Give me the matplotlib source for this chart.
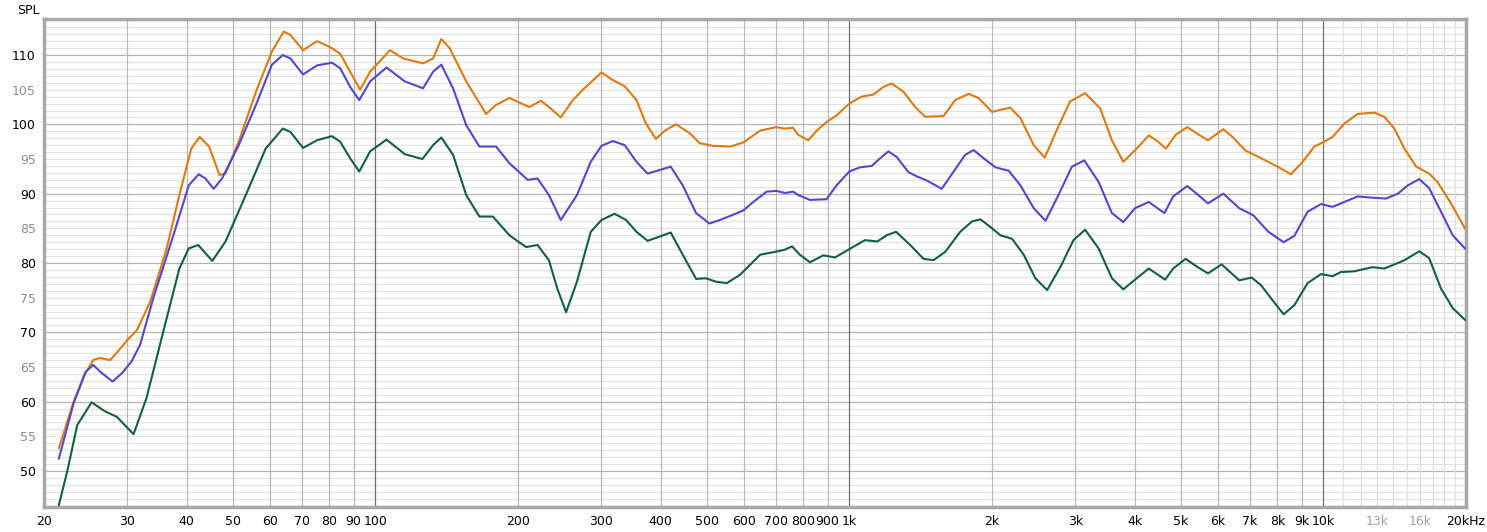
import numpy as np
import matplotlib
matplotlib.use("Agg")
import matplotlib.pyplot as plt

# frequency response readings (Hz, dB SPL)
orange_f = [21.5, 23.1, 24.3, 25.4, 26.2, 27.6, 29.0, 30.0, 31.4, 33.5, 36.3, 38.6, 40.9, 42.6, 44.6,
            46.9, 48.3, 51.5, 56.0, 60.5, 64.1, 66.2, 70.4, 75.3, 80.0, 84.3, 88.5, 92.9, 97.5, 107.4,
            114.5, 126.1, 132.4, 137.8, 143.5, 155.5, 171.3, 179.8, 191.8, 211.3, 223.6, 232.4, 246.2,
            261.0, 274.1, 300, 314.8, 335.9, 355.6, 372.5, 390.6, 410, 431.2, 461, 483.1, 515, 561.4,
            597.9, 648.5, 700.4, 729.7, 761, 780, 818.9, 859.9, 898.1, 940.1, 1000, 1062, 1124, 1180,
            1229, 1301, 1377, 1445, 1580, 1673, 1785, 1874, 2000, 2083, 2186, 2296, 2450, 2584, 2728,
            2922, 3144, 3383, 3581, 3785, 4040, 4283, 4464, 4655, 4883, 5164, 5405, 5710, 6152, 6430,
            6860, 7300, 8009, 8545, 9045, 9572, 10049, 10464, 11074, 11814, 12808, 13449, 14122, 14829,
            15703, 16722, 17410, 18594, 19900]
orange_db = [53.3, 60.0, 63.8, 66.0, 66.3, 66.0, 67.7, 68.9, 70.3, 74.4, 82.1, 89.8, 96.5, 98.2, 96.8,
             92.7, 92.9, 97.5, 104.7, 110.5, 113.4, 112.9, 110.7, 112.0, 111.2, 110.2, 107.6, 105.0, 107.6, 110.7,
             109.5, 108.8, 109.5, 112.3, 111.0, 106.2, 101.5, 102.8, 103.8, 102.5, 103.4, 102.5, 101.0,
             103.5, 105.0, 107.5, 106.5, 105.5, 103.5, 100.1, 97.9, 99.2, 100.0, 98.7, 97.3, 96.9, 96.8,
             97.4, 99.1, 99.6, 99.4, 99.5, 98.5, 97.7, 99.3, 100.4, 101.3, 103.0, 104.0, 104.3, 105.4,
             105.9, 104.7, 102.5, 101.1, 101.2, 103.5, 104.4, 103.8, 101.8, 102.1, 102.4, 100.9, 97.0, 95.2, 98.9,
             103.3, 104.5, 102.3, 97.7, 94.6, 96.5, 98.4, 97.6, 96.5, 98.5, 99.6, 98.7, 97.7, 99.3, 98.2,
             96.2, 95.3, 93.9, 92.8, 94.6, 96.8, 97.5, 98.2, 100.1, 101.5, 101.7, 101.1, 99.4, 96.5,
             93.9, 92.9, 91.7, 88.6, 85.0]

blue_f = [21.5, 23.1, 24.5, 25.4, 26.3, 27.9, 29.2, 30.6, 31.9, 34.0, 37.5, 40.4, 42.4, 43.8, 45.6,
          47.5, 51.5, 56.0, 60.5, 63.8, 66.2, 70.4, 75.3, 81.0, 84.3, 88.5, 92.5, 97.5, 105.6, 115.4,
          126.1, 132.4, 137.8, 145.9, 155.5, 165.8, 179.8, 191.8, 209.6, 219.9, 232.4, 246.2, 266.3,
          284.8, 300, 317.1, 335.9, 355.6, 375.4, 397.4, 420, 445.2, 475.1, 507, 533.1, 565.8, 597.9,
          627, 669.4, 701.5, 732.2, 761, 780, 826, 895, 940, 1000, 1053, 1115, 1161, 1209, 1259, 1333,
          1388, 1457, 1567, 1660, 1756, 1829, 1921, 2034, 2170, 2296, 2450, 2594, 2762, 2948, 3132,
          3357, 3581, 3785, 4005, 4283, 4622, 4822, 5164, 5405, 5710, 6152, 6648, 7113, 7660, 8245,
          8684, 9267, 9887, 10464, 11074, 11814, 12808, 13558, 14362, 15073, 15938, 16722, 17714,
          18750, 19900]
blue_db = [51.8, 59.8, 64.3, 65.3, 64.3, 62.9, 64.1, 65.8, 68.2, 74.9, 84.0, 91.2, 92.8, 92.2, 90.7,
           92.2, 97.0, 102.8, 108.6, 110.0, 109.5, 107.2, 108.5, 108.9, 108.1, 105.4, 103.5, 106.2, 108.2, 106.2,
           105.2, 107.6, 108.6, 105.2, 99.9, 96.8, 96.8, 94.4, 92.0, 92.2, 89.8, 86.2, 89.8,
           94.6, 96.9, 97.6, 97.0, 94.6, 92.9, 93.4, 93.9, 91.2, 87.2, 85.7, 86.2, 86.9, 87.6,
           88.8, 90.3, 90.4, 90.1, 90.3, 89.8, 89.1, 89.2, 91.2, 93.2, 93.8, 94.0, 95.1, 96.1, 95.3, 93.1,
           92.5, 91.9, 90.7, 93.2, 95.6, 96.3, 95.1, 93.8, 93.3, 91.2, 87.9, 86.1, 89.8, 93.9, 94.8,
           91.7, 87.2, 85.9, 87.9, 88.8, 87.2, 89.6, 91.1, 90.0, 88.6, 90.0, 87.9, 86.9, 84.5, 83.0,
           83.9, 87.4, 88.5, 88.1, 88.8, 89.6, 89.4, 89.3, 90.0, 91.2, 92.1, 90.8, 87.4,
           84.0, 82.1]

green_f = [21.5, 22.4, 23.5, 25.2, 26.9, 28.5, 30.9, 32.9, 35.7, 38.6, 40.4, 42.3, 45.3, 48.3, 53.3,
           58.7, 63.8, 66.2, 70.4, 75.3, 81.0, 84.3, 88.5, 92.5, 97.5, 105.6, 115.4, 125.7, 132.4, 137.8,
           145.9, 155.5, 165.8, 177.0, 191.8, 208.0, 219.9, 232.4, 242.1, 252.6, 266.3, 284.8, 300,
           319.6, 338.1, 355.6, 375.4, 397.4, 420, 445.2, 475.1, 498.3, 523.4, 551.6, 588.2, 648.5,
           696.4, 729.7, 757.4, 786, 826, 881, 933, 1000, 1079, 1146, 1199, 1255, 1344, 1434, 1505,
           1593, 1714, 1815, 1890, 1984, 2083, 2204, 2333, 2469, 2614, 2792, 2971, 3144, 3357, 3581,
           3785, 4040, 4283, 4637, 4822, 5122, 5405, 5710, 6102, 6648, 7060, 7390, 7758, 8245, 8684,
           9267, 9887, 10464, 10897, 11623, 12703, 13449, 14829, 15938, 16722, 17714, 18750, 19900]
green_db = [45.1, 50.0, 56.6, 59.9, 58.6, 57.8, 55.3, 60.5, 70.1, 79.2, 82.1, 82.6, 80.3, 83.1, 89.8,
            96.5, 99.4, 98.9, 96.6, 97.7, 98.3, 97.5, 95.1, 93.2, 96.1, 97.8, 95.7, 95.0, 97.0, 98.1,
            95.6, 89.8, 86.7, 86.7, 84.0, 82.3, 82.6, 80.4, 76.3, 72.9, 77.3, 84.5, 86.2,
            87.1, 86.2, 84.5, 83.2, 83.8, 84.4, 81.2, 77.7, 77.8, 77.3, 77.1, 78.3, 81.2,
            81.6, 81.9, 82.4, 81.2, 80.1, 81.1, 80.8, 82.0, 83.3, 83.1, 84.0, 84.5, 82.6, 80.6, 80.4,
            81.6, 84.5, 86.0, 86.3, 85.2, 84.0, 83.5, 81.2, 77.8, 76.1, 79.5, 83.3, 84.8, 82.1, 77.8,
            76.2, 77.8, 79.2, 77.6, 79.2, 80.6, 79.5, 78.5, 79.8, 77.5, 77.9, 76.8, 74.9, 72.6, 73.9,
            77.1, 78.4, 78.1, 78.7, 78.8, 79.4, 79.2, 80.4, 81.7, 80.7, 76.3, 73.5, 71.8]

x_ticks = [20, 30, 40, 50, 60, 70, 80, 90, 100, 200, 300, 400, 500, 600, 700, 800, 900,
           1000, 2000, 3000, 4000, 5000, 6000, 7000, 8000, 9000, 10000, 13000, 16000, 20000]
x_labels = ["20", "30", "40", "50", "60", "70", "80", "90", "100", "200", "300", "400", "500",
            "600", "700", "800", "900", "1k", "2k", "3k", "4k", "5k", "6k", "7k", "8k", "9k", "10k",
            "13k", "16k", "20kHz"]
y_ticks = [50, 55, 60, 65, 70, 75, 80, 85, 90, 95, 100, 105, 110]

fig = plt.figure(figsize=(14.87, 5.32), dpi=100)
ax = fig.add_axes([44 / 1487, 1 - 507 / 532, 1422 / 1487, 488 / 532])
ax.set_xscale("log")
ax.set_xlim(20, 20000)
ax.set_ylim(44.8, 115.2)

# grid
for db in range(45, 116):
    c = "#b2b2b2" if db % 10 == 0 else "#e2e2e2"
    ax.axhline(db, color=c, lw=0.9, zorder=0)
for dec in [10, 100, 1000]:
    for m in range(2, 10):
        f = m * dec
        if f >= 20:
            ax.axvline(f, color="#b8b8b8", lw=0.9, zorder=0)
for f in [100, 1000, 10000]:
    ax.axvline(f, color="#707070", lw=0.9, zorder=0)
for f in range(11000, 20000, 1000):
    ax.axvline(f, color="#dedede", lw=0.9, zorder=0)

ax.plot(orange_f, orange_db, color="#e07a10", lw=1.5, zorder=3)
ax.plot(blue_f, blue_db, color="#5048d0", lw=1.5, zorder=3)
ax.plot(green_f, green_db, color="#12613a", lw=1.5, zorder=3)

ax.set_xticks(x_ticks)
ax.set_xticklabels(x_labels)
ax.xaxis.set_minor_locator(matplotlib.ticker.NullLocator())
ax.set_yticks(y_ticks)
ax.tick_params(length=0, labelsize=9, pad=6)
for lab, f in zip(ax.get_xticklabels(), x_ticks):
    if f in (13000, 16000):
        lab.set_color("#a0a0a0")
for lab, v in zip(ax.get_yticklabels(), y_ticks):
    lab.set_color("black" if v % 10 == 0 else "#8c8c8c")

for s in ax.spines.values():
    s.set_color("#a8a8a8")
    s.set_linewidth(2.5)

fig.text(17 / 1487, 1 - 10 / 532, "SPL", fontsize=9, va="center", ha="left")

fig.savefig("out.png", dpi=100)
